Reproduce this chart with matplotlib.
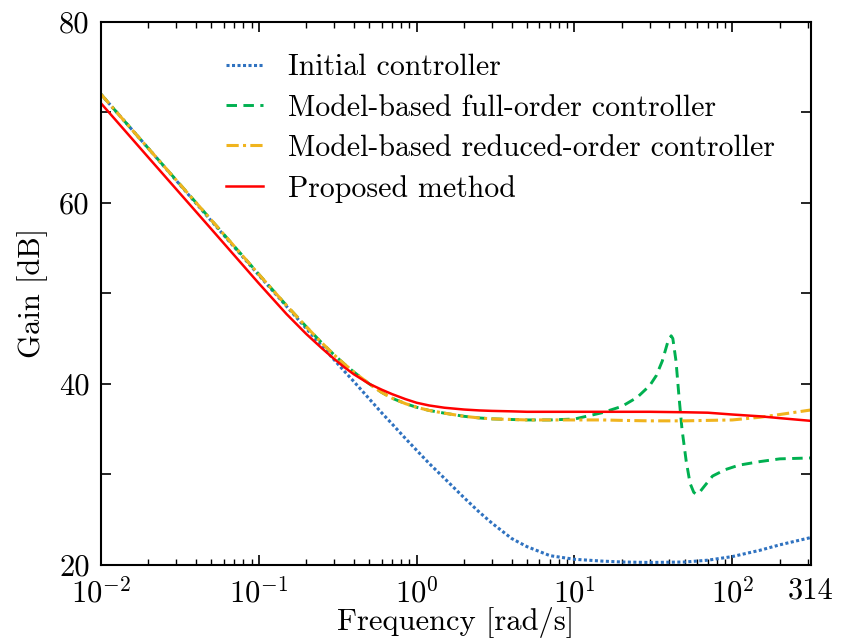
import matplotlib
matplotlib.use("Agg")
import matplotlib.pyplot as plt
from matplotlib.ticker import FixedLocator, FixedFormatter, LogLocator, NullFormatter

plt.rcParams['font.family'] = 'cmr10'
plt.rcParams['mathtext.fontset'] = 'cm'
plt.rcParams['axes.formatter.use_mathtext'] = True

# frequency grid [rad/s] shared by the smooth curves
freq = [0.01, 0.02, 0.05, 0.1, 0.15, 0.2, 0.25, 0.3, 0.35, 0.4, 0.5, 0.6, 0.7, 0.85,
        1, 1.2, 1.5, 2, 2.5, 3, 4, 5, 7, 10, 15, 20, 30, 50, 70, 100, 150, 200, 314]

gain_initial = [72.0, 66.0, 58.0, 52.0, 48.55, 46.1, 44.2, 42.65, 41.35, 40.25, 38.35,
                36.8, 35.55, 33.95, 32.65, 31.2, 29.55, 27.4, 25.8, 24.6, 22.9, 22.0,
                21.0, 20.6, 20.4, 20.3, 20.25, 20.3, 20.5, 20.9, 21.6, 22.2, 23.0]

gain_reduced = [72.0, 66.0, 58.1, 52.1, 48.65, 46.3, 44.55, 43.2, 42.15, 41.3, 40.0,
                39.05, 38.4, 37.8, 37.4, 37.05, 36.75, 36.4, 36.22, 36.12, 36.05, 36.0,
                36.0, 36.0, 36.0, 35.95, 35.9, 35.9, 35.95, 36.0, 36.3, 36.6, 37.1]

gain_proposed = [71.0, 65.0, 57.1, 51.1, 47.7, 45.5, 43.95, 42.75, 41.8, 41.05, 40.0,
                 39.35, 38.85, 38.3, 37.9, 37.6, 37.35, 37.15, 37.05, 37.0, 36.95, 36.9,
                 36.9, 36.9, 36.9, 36.9, 36.9, 36.85, 36.8, 36.6, 36.4, 36.2, 35.9]

# full-order controller has a resonance, so it gets its own grid
freq_full = [0.01, 0.02, 0.05, 0.1, 0.15, 0.2, 0.25, 0.3, 0.35, 0.4, 0.5, 0.6, 0.7, 0.85,
             1, 1.2, 1.5, 2, 2.5, 3, 4, 5, 7, 10, 15, 20, 25, 30, 33, 36, 39, 41, 42,
             44, 46, 48, 51, 54, 57, 59, 62, 66, 75, 90, 110, 150, 200, 314]
gain_full = [72.0, 66.0, 58.1, 52.1, 48.65, 46.3, 44.55, 43.2, 42.15, 41.3, 40.0, 39.05,
             38.4, 37.8, 37.4, 37.05, 36.75, 36.4, 36.22, 36.12, 36.05, 36.0, 36.0,
             36.1, 36.8, 37.5, 38.5, 39.8, 40.9, 42.5, 44.6, 45.3, 45.0, 42.5, 38.5,
             35.0, 31.5, 29.0, 28.0, 27.8, 28.0, 28.6, 29.8, 30.5, 31.0, 31.4, 31.7, 31.8]

xticks = [0.01, 0.1, 1, 10, 100, 314]
xticklabels = ['$10^{-2}$', '$10^{-1}$', '$10^{0}$', '$10^{1}$', '$10^{2}$', '314']
yticks = [20, 30, 40, 50, 60, 70, 80]
yticklabels = ['20', '', '40', '', '60', '', '80']

fig = plt.figure(figsize=(8.41, 6.41), dpi=100)
ax = fig.add_axes([0.120, 0.119, 0.844, 0.847])

ax.plot(freq, gain_initial, color='#2f72c0', linestyle=(0, (1, 0.8)), linewidth=2.2,
        label='Initial controller')
ax.plot(freq_full, gain_full, color='#00b050', linestyle=(0, (3.6, 2.2)), linewidth=2.1,
        label='Model-based full-order controller')
ax.plot(freq, gain_reduced, color='#f0b41e', linestyle=(0, (4, 1.4, 1, 1.4)), linewidth=2.2,
        label='Model-based reduced-order controller')
ax.plot(freq, gain_proposed, color='#ff0000', linestyle='-', linewidth=1.8,
        label='Proposed method')

ax.set_xscale('log')
ax.set_xlim(0.01, 314)
ax.set_ylim(20, 80)
ax.xaxis.set_major_locator(FixedLocator(xticks))
ax.xaxis.set_major_formatter(FixedFormatter(xticklabels))
ax.xaxis.set_minor_locator(LogLocator(base=10, subs=range(2, 10)))
ax.xaxis.set_minor_formatter(NullFormatter())
ax.yaxis.set_major_locator(FixedLocator(yticks))
ax.yaxis.set_major_formatter(FixedFormatter(yticklabels))

ax.tick_params(which='both', direction='in', top=True, right=True, labelsize=22)
ax.tick_params(axis='y', pad=8)
ax.tick_params(axis='x', pad=9)
ax.tick_params(which='major', length=7, width=1.2)
ax.tick_params(which='minor', length=4, width=1.0)
for s in ax.spines.values():
    s.set_linewidth(1.5)

ax.set_xlabel('Frequency [rad/s]', fontsize=22, labelpad=-1)
ax.set_ylabel('Gain [dB]', fontsize=22, labelpad=8)

ax.legend(loc='upper left', bbox_to_anchor=(0.159, 0.963), borderaxespad=0,
          frameon=False, fontsize=21.5, handlelength=1.24, handletextpad=0.84,
          labelspacing=0.43)

fig.savefig('out.png', dpi=100)
